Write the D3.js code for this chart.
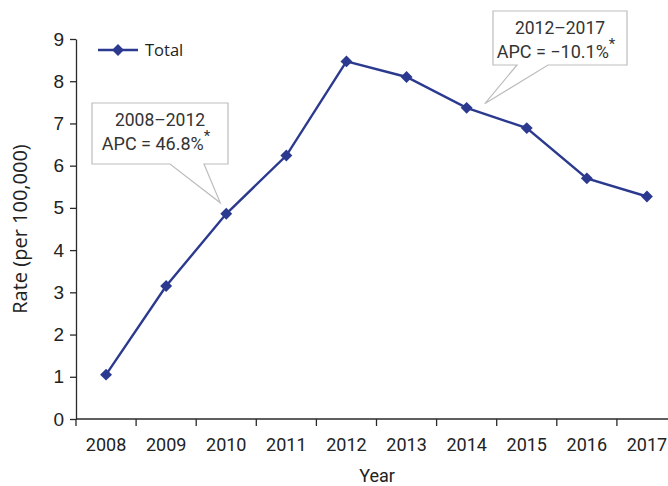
<!DOCTYPE html>
<html>
<head>
<meta charset="utf-8">
<script src="https://cdn.jsdelivr.net/npm/d3@7"></script>
<style>
  html, body { margin: 0; padding: 0; background: #fff; }
  svg { display: block; }
</style>
</head>
<body>
<svg id="chart" width="668" height="486"></svg>
<script>
// Incidence rate per year
const years = ["2008", "2009", "2010", "2011", "2012", "2013", "2014", "2015", "2016", "2017"];
const rates = [1.05, 3.15, 4.86, 6.24, 8.47, 8.10, 7.37, 6.89, 5.70, 5.27];
const yTicks = [0, 1, 2, 3, 4, 5, 6, 7, 8, 9];
const seriesName = "Total";

// Joinpoint segment annotations
const segments = [
  { period: "2008–2012", apc: "APC = 46.8%", anchor: "2010" },
  { period: "2012–2017", apc: "APC = −10.1%", anchor: "2014" }
];

const lineColor = "#2b3a8f";
const axisColor = "#2a2a2a";
const tickFont = "'Roboto', 'Liberation Sans Narrow', sans-serif";

const svg = d3.select("#chart");
const plotLeft = 76, plotRight = 677, plotTop = 39, plotBottom = 419;

const x = d3.scaleBand().domain(years).range([plotLeft, plotRight]);
const y = d3.scaleLinear().domain([0, 9]).range([plotBottom, plotTop]);
const cx = d => x(d) + x.bandwidth() / 2;

// Y axis
const yAxis = svg.append("g")
  .attr("transform", `translate(${plotLeft},0)`)
  .call(d3.axisLeft(y).tickValues(yTicks).tickSize(6).tickPadding(6).tickSizeOuter(0));
yAxis.select(".domain").attr("stroke", axisColor).attr("stroke-width", 1.3);
yAxis.selectAll(".tick line").attr("stroke", axisColor).attr("stroke-width", 1.3);
yAxis.selectAll(".tick text")
  .attr("fill", "#222")
  .style("font-family", "'Liberation Sans', Arial, sans-serif")
  .style("font-size", "19px");

// X axis: ticks at category boundaries, labels centered in each band
const xAxisG = svg.append("g").attr("transform", `translate(0,${plotBottom})`);
xAxisG.append("line")
  .attr("x1", plotLeft).attr("x2", 668)
  .attr("stroke", axisColor).attr("stroke-width", 1.3);
xAxisG.selectAll("line.tk")
  .data(years)
  .join("line")
  .attr("class", "tk")
  .attr("x1", d => x(d)).attr("x2", d => x(d))
  .attr("y1", 0).attr("y2", 7)
  .attr("stroke", axisColor).attr("stroke-width", 1.3);
xAxisG.selectAll("text")
  .data(years)
  .join("text")
  .attr("x", d => cx(d))
  .attr("y", 32)
  .attr("text-anchor", "middle")
  .attr("fill", "#222")
  .style("font-family", tickFont)
  .style("font-size", "18px")
  .text(d => d);

// Axis titles
svg.append("text")
  .attr("x", (plotLeft + 668) / 2 + 5)
  .attr("y", 482)
  .attr("text-anchor", "middle")
  .attr("fill", "#222")
  .style("font-family", tickFont)
  .style("font-size", "18px")
  .text("Year");

svg.append("text")
  .attr("transform", `translate(27,${(plotTop + plotBottom) / 2}) rotate(-90)`)
  .attr("text-anchor", "middle")
  .attr("fill", "#222")
  .style("font-family", "'Open Sans', 'Noto Sans', sans-serif")
  .style("font-size", "20px")
  .text("Rate (per 100,000)");

// Callouts
const calloutBoxes = [
  { x0: 92, y0: 103, w: 136, h: 61, b1: 170, b2: 204, tipDx: -6, tipDy: -11 },
  { x0: 493, y0: 11, w: 134, h: 54, b1: 517, b2: 548, tipDx: 18, tipDy: -4 }
];
segments.forEach((s, i) => {
  const b = calloutBoxes[i];
  const idx = years.indexOf(s.anchor);
  const tx = cx(s.anchor) + b.tipDx;
  const ty = y(rates[idx]) + b.tipDy;
  const g = svg.append("g");
  g.append("path")
    .attr("d", `M${b.x0},${b.y0}H${b.x0 + b.w}V${b.y0 + b.h}H${b.b2}L${tx},${ty}L${b.b1},${b.y0 + b.h}H${b.x0}Z`)
    .attr("fill", "#fff")
    .attr("stroke", "#bdbdbd")
    .attr("stroke-width", 1.2);
  const midX = b.x0 + b.w / 2;
  g.append("text")
    .attr("x", midX).attr("y", b.y0 + 23)
    .attr("text-anchor", "middle")
    .attr("fill", "#333")
    .style("font-family", tickFont)
    .style("font-size", "17.5px")
    .text(s.period);
  const t2 = g.append("text")
    .attr("x", midX - 4).attr("y", b.y0 + 47)
    .attr("text-anchor", "middle")
    .attr("fill", "#333")
    .style("font-family", tickFont)
    .style("font-size", "18px");
  t2.append("tspan").text(s.apc);
  t2.append("tspan").attr("dy", -9).style("font-size", "15px").text("*");
});

// Series line
svg.append("path")
  .datum(rates)
  .attr("fill", "none")
  .attr("stroke", lineColor)
  .attr("stroke-width", 2.4)
  .attr("d", d3.line().x((d, i) => cx(years[i])).y(d => y(d)));

const diamond = d3.symbol().type(d3.symbolDiamond2).size(90);
svg.selectAll("path.pt")
  .data(rates)
  .join("path")
  .attr("class", "pt")
  .attr("transform", (d, i) => `translate(${cx(years[i])},${y(d)})`)
  .attr("d", diamond)
  .attr("fill", lineColor);

// Legend
const lg = svg.append("g").attr("transform", "translate(98,50)");
lg.append("line").attr("x1", 0).attr("x2", 40)
  .attr("stroke", lineColor).attr("stroke-width", 2.4);
lg.append("path").attr("transform", "translate(20,0)")
  .attr("d", diamond).attr("fill", lineColor);
lg.append("text")
  .attr("x", 47).attr("y", 6)
  .attr("fill", "#222")
  .style("font-family", "'Open Sans', 'Noto Sans', sans-serif")
  .style("font-size", "16.5px")
  .text(seriesName);
</script>
</body>
</html>
